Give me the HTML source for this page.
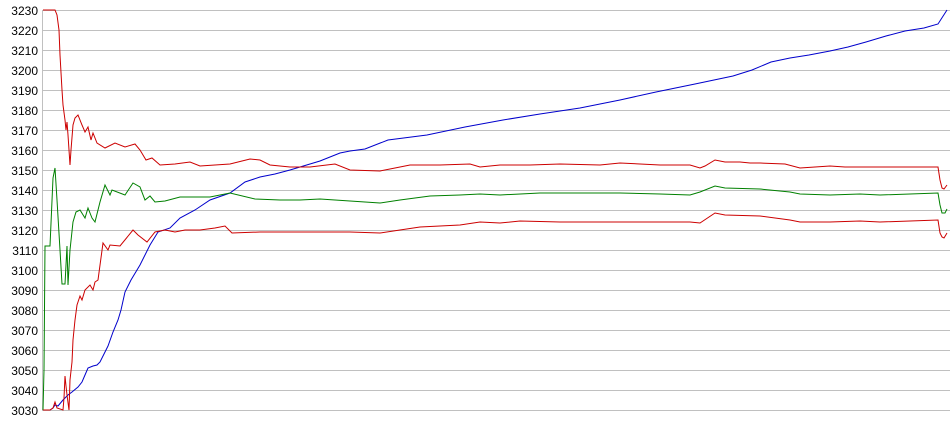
<!DOCTYPE html>
<html><head><style>
body{margin:0;background:#fff;width:950px;height:435px;overflow:hidden}
svg{display:block}
text{font-family:"Liberation Sans",sans-serif;font-size:12px;fill:#000}
</style></head><body>
<svg width="950" height="435" xmlns="http://www.w3.org/2000/svg">
<g stroke="#c0c0c0" stroke-width="1">
<line x1="43" y1="10.5" x2="950" y2="10.5"/><line x1="43" y1="30.5" x2="950" y2="30.5"/><line x1="43" y1="50.5" x2="950" y2="50.5"/><line x1="43" y1="70.5" x2="950" y2="70.5"/><line x1="43" y1="90.5" x2="950" y2="90.5"/><line x1="43" y1="110.5" x2="950" y2="110.5"/><line x1="43" y1="130.5" x2="950" y2="130.5"/><line x1="43" y1="150.5" x2="950" y2="150.5"/><line x1="43" y1="170.5" x2="950" y2="170.5"/><line x1="43" y1="190.5" x2="950" y2="190.5"/><line x1="43" y1="210.5" x2="950" y2="210.5"/><line x1="43" y1="230.5" x2="950" y2="230.5"/><line x1="43" y1="250.5" x2="950" y2="250.5"/><line x1="43" y1="270.5" x2="950" y2="270.5"/><line x1="43" y1="290.5" x2="950" y2="290.5"/><line x1="43" y1="310.5" x2="950" y2="310.5"/><line x1="43" y1="330.5" x2="950" y2="330.5"/><line x1="43" y1="350.5" x2="950" y2="350.5"/><line x1="43" y1="370.5" x2="950" y2="370.5"/><line x1="43" y1="390.5" x2="950" y2="390.5"/><line x1="43" y1="410.5" x2="950" y2="410.5"/>
<line x1="42.5" y1="10" x2="42.5" y2="411"/>
</g>
<g text-anchor="end">
<text x="38" y="15">3230</text><text x="38" y="35">3220</text><text x="38" y="55">3210</text><text x="38" y="75">3200</text><text x="38" y="95">3190</text><text x="38" y="115">3180</text><text x="38" y="135">3170</text><text x="38" y="155">3160</text><text x="38" y="175">3150</text><text x="38" y="195">3140</text><text x="38" y="215">3130</text><text x="38" y="235">3120</text><text x="38" y="255">3110</text><text x="38" y="275">3100</text><text x="38" y="295">3090</text><text x="38" y="315">3080</text><text x="38" y="335">3070</text><text x="38" y="355">3060</text><text x="38" y="375">3050</text><text x="38" y="395">3040</text><text x="38" y="415">3030</text>
</g>
<g fill="none" stroke-width="1">
<polyline stroke="#0000cc" points="43,410 50,410 53,408 55,405 58,406 63,400 68,395 72,392 78,387 82,382 85,375 88,368 93,366 97,365 100,362 103,356 108,346 113,332 118,320 121,310 125,292 131,280 140,265 150,245 158,232 170,228 180,218 195,210 210,200 230,193 245,182 260,177 275,174 290,170 300,167 320,161 340,153 350,151 365,149 388,140 427,135 465,127 503,120 540,114 580,108 620,100 656,92 695,84 733,76 752,70 771,62 790,58 809,55 830,51 848,47 866,42 886,36 905,31 924,28 938,24 947,10"/>
<polyline stroke="#cc0000" points="43,10 55,10 57,15 59,30 60,55 62,90 63,105 65,120 66,130 67,122 68,135 70,165 71,150 73,125 75,118 78,115 82,125 85,132 88,127 91,140 93,133 97,143 105,148 115,143 125,147 135,144 140,150 146,160 152,158 160,165 175,164 190,162 200,166 230,164 250,159 260,160 270,165 290,167 310,167 335,164 350,170 380,171 395,168 410,165 440,165 470,164 480,167 500,165 530,165 560,164 600,165 620,163 660,165 690,165 700,168 705,166 715,160 725,162 740,162 750,163 760,163 785,164 800,168 815,167 830,166 845,167 860,167 938,167 940,180 942,188 944,189 947,185"/>
<polyline stroke="#008000" points="43,410 44,370 45,246 50,246 53,178 55,168 57,200 60,250 62,284 65,284 67,246 68,285 70,250 73,222 76,212 80,210 85,218 88,208 92,218 95,222 100,202 105,185 110,195 112,190 125,195 133,183 140,187 145,200 150,196 155,202 165,201 180,197 210,197 230,193 255,199 280,200 300,200 320,199 350,201 380,203 400,200 430,196 460,195 480,194 500,195 540,193 580,193 620,193 660,194 690,195 700,192 715,186 725,188 760,189 790,192 800,194 830,195 860,194 880,195 938,193 940,205 942,213 945,213 947,209"/>
<polyline stroke="#cc0000" points="43,410 50,410 53,408 55,402 57,408 63,410 64,398 65,376 66,386 67,395 69,410 70,380 72,362 73,340 75,320 77,305 80,296 82,300 85,290 90,285 93,290 95,282 98,280 103,243 108,250 110,245 120,246 133,230 138,235 147,242 155,232 165,230 175,232 185,230 200,230 215,228 225,226 232,233 260,232 300,232 330,232 350,232 380,233 400,230 420,227 460,225 480,222 500,223 520,221 560,222 620,222 660,222 690,222 700,223 715,213 725,215 760,216 790,220 800,222 830,222 860,221 880,222 938,220 940,233 942,237 944,238 947,233"/>
</g>
</svg>
</body></html>
